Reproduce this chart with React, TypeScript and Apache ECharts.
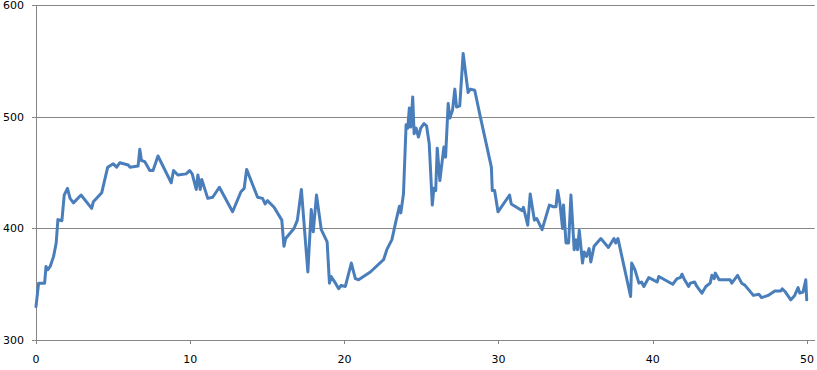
import React, { useEffect, useRef } from "react";
import * as echarts from "echarts";

const xValues: number[] = [
  0, 0.17, 0.56, 0.65, 0.77, 0.92, 1.14, 1.31, 1.42, 1.68, 1.83, 2.04, 2.21, 2.43, 2.92, 3.61, 3.72, 4.26, 4.65,
  5.01, 5.23, 5.44, 5.98, 6.09, 6.62, 6.73, 6.84, 7.05, 7.38, 7.59, 7.91, 8.77, 8.92, 9.2, 9.74, 9.96, 10.13,
  10.39, 10.5, 10.65, 10.75, 11.14, 11.46, 11.89, 12.75, 13.29, 13.5, 13.66, 14.37, 14.69, 14.86, 15.01, 15.44,
  15.94, 16.08, 16.19, 16.73, 16.95, 17.21, 17.63, 17.85, 17.98, 18.19, 18.5, 18.88, 19.03, 19.14, 19.42, 19.63,
  19.79, 20.06, 20.45, 20.71, 20.92, 21.68, 22.54, 22.75, 23.08, 23.35, 23.57, 23.66, 23.83, 24.0, 24.11, 24.21,
  24.3, 24.43, 24.52, 24.65, 24.8, 24.95, 25.16, 25.33, 25.5, 25.7, 25.8, 25.92, 26.02, 26.19, 26.45, 26.56,
  26.73, 26.84, 27.01, 27.16, 27.27, 27.48, 27.7, 28.02, 28.17, 28.45, 28.77, 29.53, 29.59, 29.74, 29.96, 30.71,
  30.82, 31.53, 31.61, 31.89, 32.05, 32.32, 32.47, 32.82, 33.29, 33.55, 33.72, 33.83, 33.98, 34.15, 34.21, 34.37,
  34.54, 34.69, 34.9, 35.01, 35.12, 35.23, 35.44, 35.55, 35.7, 35.87, 35.98, 36.19, 36.63, 37.12, 37.48, 37.59,
  37.74, 38.56, 38.63, 38.84, 39.1, 39.27, 39.42, 39.74, 40.28, 40.39, 41.29, 41.57, 41.79, 41.89, 42.06, 42.32,
  42.43, 42.71, 42.86, 43.18, 43.44, 43.72, 43.83, 43.98, 44.05, 44.3, 45.01, 45.12, 45.5, 45.76, 45.98, 46.52,
  46.88, 47.05, 47.48, 47.91, 48.3, 48.39, 48.6, 48.95, 49.2, 49.42, 49.53, 49.74, 49.92, 49.98,
];

const yValues: number[] = [
  330, 351, 351, 366, 363, 366, 375, 387, 408, 407, 430, 436, 427, 423, 430, 418, 424, 432, 455,
  458, 455, 459, 457, 455, 456, 471, 461, 460, 452, 452, 465, 441, 452, 448, 449, 452, 449,
  435, 448, 435, 444, 427, 428, 437, 415, 433, 436, 453, 428, 427, 422, 425, 419,
  407.5, 384, 391, 400, 407.5, 435, 361, 417, 397, 430, 399, 388, 351, 357, 351, 346,
  349, 348, 369, 355, 354, 361, 372, 381, 390, 407, 420, 414, 431, 493, 490, 508,
  491, 518, 485, 490, 482, 490, 494, 492, 476, 421, 436, 434, 472, 443, 473, 464,
  512, 499, 506, 525, 509, 510, 557, 522, 525, 524, 503, 455, 434, 434, 415, 430,
  422, 416, 419, 403, 431, 407.5, 409, 399, 421, 419.5, 419.5, 434, 422, 400, 421, 387,
  387, 430, 381, 390, 381, 398.5, 369, 379, 375, 382, 370, 384, 391, 383, 391, 387,
  391, 339, 369, 363, 351, 352, 348, 356, 352, 357, 350, 355, 356, 359, 354, 348,
  351, 352, 348, 342, 348, 351, 358, 355, 360, 354, 354, 351, 358, 351, 349, 340,
  341, 338, 340, 344, 344, 346, 343, 336, 340, 347, 342, 343, 354, 336,
];

const xTickLabels: number[] = [0, 10, 20, 30, 40, 50];
const yTickLabels: number[] = [300, 400, 500, 600];

export default function App() {
  const ref = useRef<HTMLDivElement>(null);

  useEffect(() => {
    document.body.style.margin = "0";
    if (!ref.current) return;
    const chart = echarts.init(ref.current, undefined, { renderer: "svg" });
    const data = xValues.map((x, i) => [x, yValues[i]]);
    const axisColor = "#868686";
    const font = "DejaVu Sans";
    chart.setOption({
      animation: false,
      backgroundColor: "#ffffff",
      grid: { left: 34, right: 0, top: 5, bottom: 30, containLabel: false },
      xAxis: {
        type: "value",
        min: xTickLabels[0],
        max: 50.5,
        interval: 10,
        axisLine: { show: true, onZero: false, lineStyle: { color: axisColor, width: 1 } },
        axisTick: { show: true, length: 4, lineStyle: { color: axisColor } },
        splitLine: { show: false },
        axisLabel: {
          showMaxLabel: false,
          margin: 14,
          color: "#000000",
          fontFamily: font,
          fontSize: 11,
          formatter: (v: number) => (xTickLabels.includes(v) ? String(v) : ""),
        },
      },
      yAxis: {
        type: "value",
        min: yTickLabels[0],
        max: yTickLabels[yTickLabels.length - 1],
        interval: 100,
        axisLine: { show: true, lineStyle: { color: axisColor, width: 1 } },
        axisTick: { show: true, length: 4, lineStyle: { color: axisColor } },
        splitLine: { show: true, lineStyle: { color: axisColor, width: 1 } },
        axisLabel: {
          margin: 12,
          color: "#000000",
          fontFamily: font,
          fontSize: 11,
        },
      },
      series: [
        {
          type: "line",
          data,
          showSymbol: false,
          symbol: "none",
          smooth: false,
          lineStyle: { color: "#4a7ebb", width: 3, join: "round", cap: "round" },
          clip: true,
        },
      ],
    });
    return () => chart.dispose();
  }, []);

  return <div ref={ref} style={{ width: 817, height: 370 }} />;
}
